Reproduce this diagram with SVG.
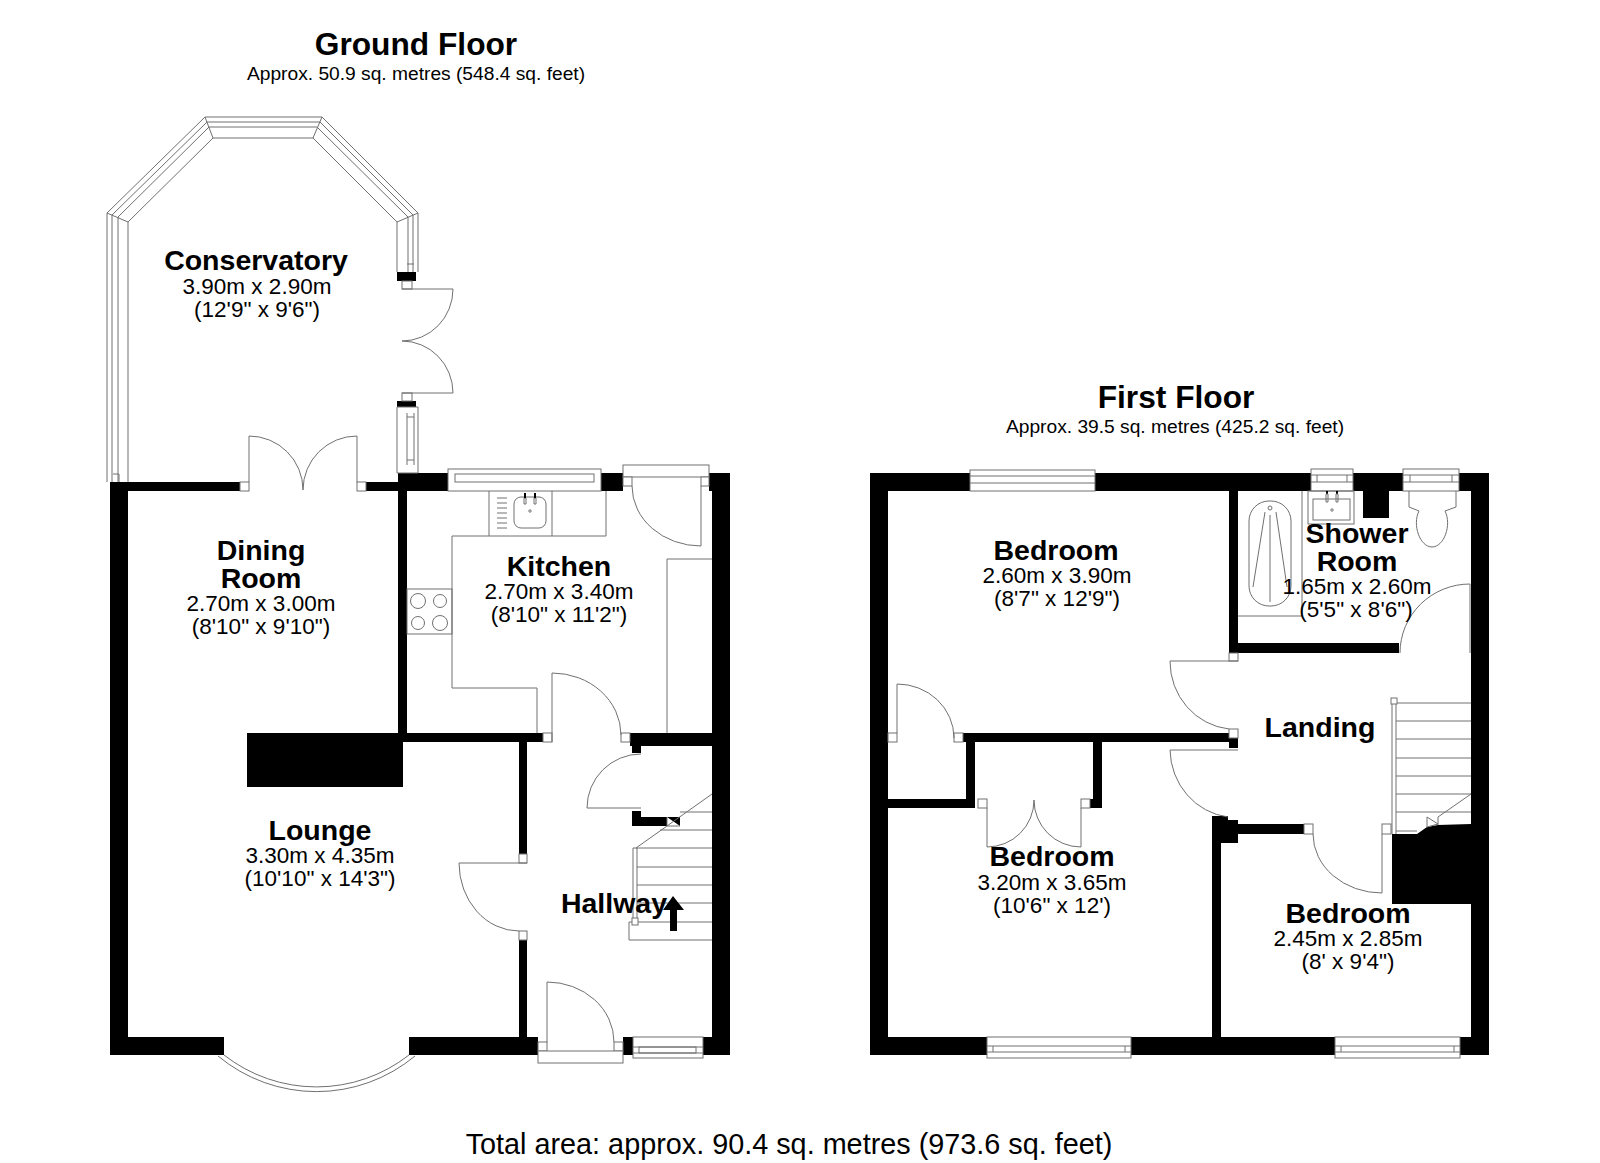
<svg xmlns="http://www.w3.org/2000/svg" width="1600" height="1163" viewBox="0 0 1600 1163">
<style>
text{font-family:"Liberation Sans",Arial,sans-serif;fill:#000;text-anchor:middle}
.t{font-size:31.7px;font-weight:700}
.s{font-size:19.2px}
.n{font-size:28.5px;font-weight:700}
.d{font-size:22.5px}
.a{font-size:28.8px}
.w{fill:#000;stroke:none}
.l{fill:none;stroke:#707070;stroke-width:1}
.f{fill:#fff;stroke:#707070;stroke-width:1}
</style>
<rect width="1600" height="1163" fill="#fff"/>
<g id="ground-floor-walls">
<path class="w" d="M110 482H128V1037H224V1055H110Z"/>
<path class="w" d="M128 482H240V491H128Z"/>
<path class="w" d="M366 482H398V473H448V491H407V733H543V742H527V854H519V742H403V787H247V733H398V491H366Z"/>
<path class="w" d="M601 473H623V491H601Z"/>
<path class="w" d="M709 473H730V1055H703V1037H712V746H641V753H632V746H630V733H712V491H709Z"/>
<path class="w" d="M519 940H527V1037H538V1055H409V1037H519Z"/>
<path class="w" d="M623 1037H633V1055H623Z"/>
<path class="w" d="M632 811H641V817H667V826H632Z"/>
<path class="w" d="M667 817H680V826Z"/>
<path class="w" d="M397 272H416V281H397ZM397 401H416V407H397Z"/>
</g>
<g id="conservatory-frame">
<path class="l" d="M107 482V213L205 117H322L418 213V272"/>
<path class="l" d="M112 482V215L207 122H320L413 215V272"/>
<path class="l" d="M118 482V217L209 127H317L408 217V272"/>
<path class="l" d="M128 482V222L213 138H313L397 222V272"/>
<path class="l" d="M107 213L128 222M205 117L213 138M322 117L313 138M418 213L397 222"/>
<path class="l" d="M113 474H119V482M407 264H414"/>
<path class="f" d="M397 407H418V473H397Z"/>
<path class="l" d="M407 413V465M414 413V465M407 417H414M407 460H414"/>
<rect class="f" x="402" y="281" width="10" height="8"/>
<rect class="f" x="402" y="393" width="10" height="8"/>
</g>
<g id="ground-floor-doors">
<path class="l" d="M402 289H453A51 52 0 0 1 402 341"/>
<path class="l" d="M402 393H453A51 52 0 0 0 402 341"/>
<rect class="f" x="240" y="482" width="9" height="9"/>
<rect class="f" x="357" y="482" width="9" height="9"/>
<path class="l" d="M249 482V436A54 54 0 0 1 303 490"/>
<path class="l" d="M357 482V436A54 54 0 0 0 303 490"/>
<rect class="f" x="623" y="465" width="86" height="12"/>
<rect class="f" x="623" y="477" width="9" height="9"/>
<rect class="f" x="701" y="477" width="8" height="9"/>
<path class="l" d="M701 486V546A69 60 0 0 1 632 486"/>
<rect class="f" x="543" y="733" width="9" height="9"/>
<rect class="f" x="621" y="733" width="9" height="9"/>
<path class="l" d="M552 742V673A69 62 0 0 1 621 735"/>
<path class="l" d="M641 808H587A54 54 0 0 1 641 754"/>
<rect class="f" x="519" y="854" width="8" height="9"/>
<rect class="f" x="519" y="931" width="8" height="9"/>
<path class="l" d="M527 863H459A60 68 0 0 0 519 931"/>
<rect class="f" x="538" y="1042" width="9" height="9"/>
<rect class="f" x="614" y="1042" width="9" height="9"/>
<rect class="f" x="538" y="1051" width="85" height="12"/>
<path class="l" d="M547 1042V982A67 60 0 0 1 614 1042"/>
</g>
<g id="ground-floor-windows">
<rect class="f" x="448" y="469" width="153" height="22"/>
<rect class="l" x="455" y="474" width="139" height="8"/>
<rect class="f" x="633" y="1037" width="70" height="21"/>
<rect class="l" x="639" y="1047" width="57" height="6"/>
<path class="l" d="M633 1047H703M633 1053H703"/>
<path class="l" d="M218 1056A154 154 0 0 0 415 1056"/>
<path class="l" d="M224 1055A150 150 0 0 0 409 1055"/>
</g>
<g id="kitchen-fittings">
<path class="l" d="M606 491V536H452V688H537V733"/>
<rect class="l" x="407" y="589" width="45" height="45"/>
<circle class="l" cx="418" cy="601" r="7.5"/><circle class="l" cx="440" cy="601" r="6.5"/>
<circle class="l" cx="418" cy="623" r="6.5"/><circle class="l" cx="440" cy="623" r="7.5"/>
<path class="l" d="M489 491V536M552 491V536"/>
<path class="l" d="M497 498H507M497 503H507M497 508H507M497 513H507M497 518H507M497 523H507M497 528H507"/>
<rect class="l" x="514" y="497" width="32" height="31" rx="7"/>
<circle class="l" cx="530" cy="511" r="1.2"/>
<path class="l" d="M524 498V504H526V498ZM534 498V504H536V498Z"/>
<path d="M524 493H526V498H524ZM534 493H536V498H534Z"/>
<path class="l" d="M667 733V559H712"/>
</g>
<g id="ground-floor-stairs">
<path class="l" d="M712 794L636 848M636 848H712M637 867H712M637 885H712M637 903H712M637 922H712M680 812H712M660 830H712"/>
<path class="l" d="M712 940H629V922H633M633 922V848H637V922"/>
<rect class="f" x="632" y="918" width="6" height="7"/>
<path class="l" d="M667 817V826H680"/>
<path d="M673 896L684 910H677V931H670V910H663Z"/>
</g>
<g id="first-floor-walls">
<path class="w" d="M870 473H970V491H888V733H897V742H888V799H966V742H963V733H1229V742H1102V808H1090V799H1093V742H975V808H888V1037H987V1055H870Z"/>
<path class="w" d="M1229 491H1238V643H1399V653H1229Z"/>
<path class="w" d="M1095 473H1311V491H1095Z"/>
<path class="w" d="M1353 473H1403V491H1389V518H1363V491H1353Z"/>
<path class="w" d="M1459 473H1489V1055H1460V1037H1471V491H1459Z"/>
<path class="w" d="M1131 1037H1212V816H1228V820H1238V824H1304V834H1238V843H1221V1037H1335V1055H1131Z"/>
<path class="w" d="M1229 738H1238V748H1229Z"/>
<path class="w" d="M1392 834H1417L1427 827L1438 825L1471 824V904H1392Z"/>
</g>
<g id="first-floor-doors">
<rect class="f" x="1229" y="653" width="9" height="8"/>
<rect class="f" x="1229" y="729" width="9" height="9"/>
<path class="l" d="M1238 661H1170A66 68 0 0 0 1229 729"/>
<path class="l" d="M1238 750H1170A66 69 0 0 0 1228 817"/>
<rect class="f" x="1304" y="824" width="9" height="10"/>
<rect class="f" x="1382" y="824" width="9" height="10"/>
<path class="l" d="M1382 834V893A69 59 0 0 1 1313 834"/>
<path class="l" d="M1470 653V584A70 69 0 0 0 1400 653"/>
<rect class="f" x="888" y="733" width="9" height="9"/>
<rect class="f" x="954" y="733" width="9" height="9"/>
<path class="l" d="M897 733V684A57 54 0 0 1 954 738"/>
<rect class="f" x="978" y="799" width="9" height="9"/>
<rect class="f" x="1081" y="799" width="9" height="9"/>
<path class="l" d="M987 808V847A47 47 0 0 0 1034 800"/>
<path class="l" d="M1081 808V847A47 47 0 0 1 1034 800"/>
</g>
<g id="first-floor-windows">
<rect class="f" x="970" y="470" width="125" height="21"/>
<path class="l" d="M970 476H1095M970 483H1095"/>
<rect class="f" x="1311" y="469" width="42" height="22"/>
<path class="l" d="M1311 475H1353M1311 482H1353M1317 475V482M1347 475V482"/>
<rect class="f" x="1403" y="469" width="56" height="22"/>
<path class="l" d="M1403 475H1459M1403 482H1459M1410 475V482M1452 475V482"/>
<rect class="f" x="987" y="1037" width="144" height="21"/>
<path class="l" d="M987 1046H1131M987 1052H1131M993 1046V1052M1125 1046V1052"/>
<rect class="f" x="1335" y="1037" width="125" height="21"/>
<path class="l" d="M1335 1046H1460M1335 1052H1460M1341 1046V1052M1454 1046V1052"/>
</g>
<g id="bathroom-fittings">
<path class="l" d="M1302 491V616H1238"/>
<rect class="l" x="1249" y="501" width="42" height="105" rx="20"/>
<circle class="l" cx="1270" cy="508" r="2"/>
<path class="l" d="M1265 512L1253 587M1276 512L1287 587M1270 515V602"/>
<rect class="l" x="1308" y="491" width="46" height="33"/>
<rect class="l" x="1313" y="499" width="37" height="21"/>
<path d="M1326 491H1328V494H1326ZM1336 491H1338V494H1336Z"/>
<path class="l" d="M1326 494V502H1328V494ZM1336 494V502H1338V494Z"/>
<circle class="l" cx="1332" cy="510" r="1.2"/>
<path class="l" d="M1409 491V507L1419 511C1412 525 1420 547 1432 547C1444 547 1452 525 1445 511L1456 507V491"/>
</g>
<g id="first-floor-stairs">
<path class="l" d="M1392 703H1471M1396 721H1471M1396 739H1471M1396 758H1471M1396 776H1471M1396 794H1471M1396 812H1471M1396 831H1417"/>
<path class="l" d="M1392 703V834M1396 703V834"/>
<rect class="f" x="1391" y="698" width="6" height="6"/>
<path class="f" d="M1427 817L1438 824L1427 827Z"/>
<path class="l" d="M1471 794L1438 817V825"/>
</g>
<g id="labels">
<text class="t" x="416" y="55">Ground Floor</text>
<text class="s" x="416" y="80">Approx. 50.9 sq. metres (548.4 sq. feet)</text>
<text class="t" x="1176" y="408">First Floor</text>
<text class="s" x="1175" y="433">Approx. 39.5 sq. metres (425.2 sq. feet)</text>
<text class="a" x="789" y="1154">Total area: approx. 90.4 sq. metres (973.6 sq. feet)</text>
<text class="n" x="256" y="270">Conservatory</text>
<text class="d" x="257" y="294">3.90m x 2.90m</text>
<text class="d" x="257" y="317">(12'9" x 9'6")</text>
<text class="n" x="261" y="560">Dining</text>
<text class="n" x="261" y="588">Room</text>
<text class="d" x="261" y="611">2.70m x 3.00m</text>
<text class="d" x="261" y="634">(8'10" x 9'10")</text>
<text class="n" x="559" y="576">Kitchen</text>
<text class="d" x="559" y="599">2.70m x 3.40m</text>
<text class="d" x="559" y="622">(8'10" x 11'2")</text>
<text class="n" x="320" y="840">Lounge</text>
<text class="d" x="320" y="863">3.30m x 4.35m</text>
<text class="d" x="320" y="886">(10'10" x 14'3")</text>
<text class="n" x="614" y="913">Hallway</text>
<text class="n" x="1056" y="560">Bedroom</text>
<text class="d" x="1057" y="583">2.60m x 3.90m</text>
<text class="d" x="1057" y="606">(8'7" x 12'9")</text>
<text class="n" x="1357" y="543">Shower</text>
<text class="n" x="1357" y="571">Room</text>
<text class="d" x="1357" y="594">1.65m x 2.60m</text>
<text class="d" x="1356" y="617">(5'5" x 8'6")</text>
<text class="n" x="1320" y="737">Landing</text>
<text class="n" x="1052" y="866">Bedroom</text>
<text class="d" x="1052" y="890">3.20m x 3.65m</text>
<text class="d" x="1052" y="913">(10'6" x 12')</text>
<text class="n" x="1348" y="923">Bedroom</text>
<text class="d" x="1348" y="946">2.45m x 2.85m</text>
<text class="d" x="1348" y="969">(8' x 9'4")</text>
</g>
</svg>
